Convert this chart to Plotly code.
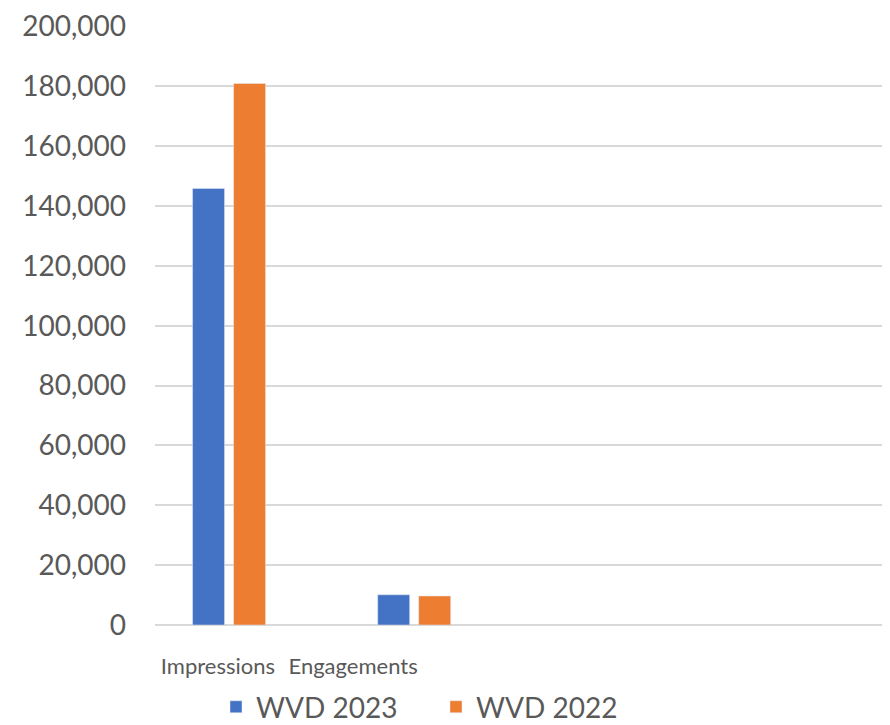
import plotly.graph_objects as go

categories = ["Impressions", "Engagements"]
wvd_2023 = [145900, 10100]
wvd_2022 = [181000, 9700]
y_ticks = [0, 20000, 40000, 60000, 80000, 100000, 120000, 140000, 160000, 180000, 200000]

x_pos = list(range(len(categories)))
font = dict(family="Lato, 'Open Sans', sans-serif", size=28, color="#595959")

fig = go.Figure()
fig.add_trace(go.Bar(x=x_pos, y=wvd_2023, name="WVD 2023", marker=dict(color="#4472C4")))
fig.add_trace(go.Bar(x=x_pos, y=wvd_2022, name="WVD 2022", marker=dict(color="#ED7D31")))

fig.update_layout(
    width=882, height=717,
    margin=dict(l=147, r=0, t=18, b=100, autoexpand=False),
    plot_bgcolor="white", paper_bgcolor="white",
    barmode="group", bargap=0.557, bargroupgap=0.22,
    font=font,
    showlegend=True,
    legend=dict(orientation="h", x=0.083, xanchor="left", y=-0.137, yanchor="middle",
                font=font, itemwidth=30, tracegroupgap=0, entrywidth=175),
)
fig.update_xaxes(
    range=[-0.4, 3.57],
    tickmode="array", tickvals=[-0.06, 0.67], ticktext=categories,
    tickangle=0, tickfont=dict(size=22),
    showgrid=False, zeroline=False, showline=False, automargin=False,
    ticks="outside", ticklen=22, tickcolor="rgba(0,0,0,0)",
)
fig.update_yaxes(
    range=[0, 200200], tickvals=y_ticks, tickformat=",",
    showgrid=True, gridcolor="#d9d9d9", gridwidth=1.5, automargin=False,
    zeroline=True, zerolinecolor="#d9d9d9", zerolinewidth=1.5,
    showline=False, ticklabelstandoff=28,
)
fig.write_html("out.html")
